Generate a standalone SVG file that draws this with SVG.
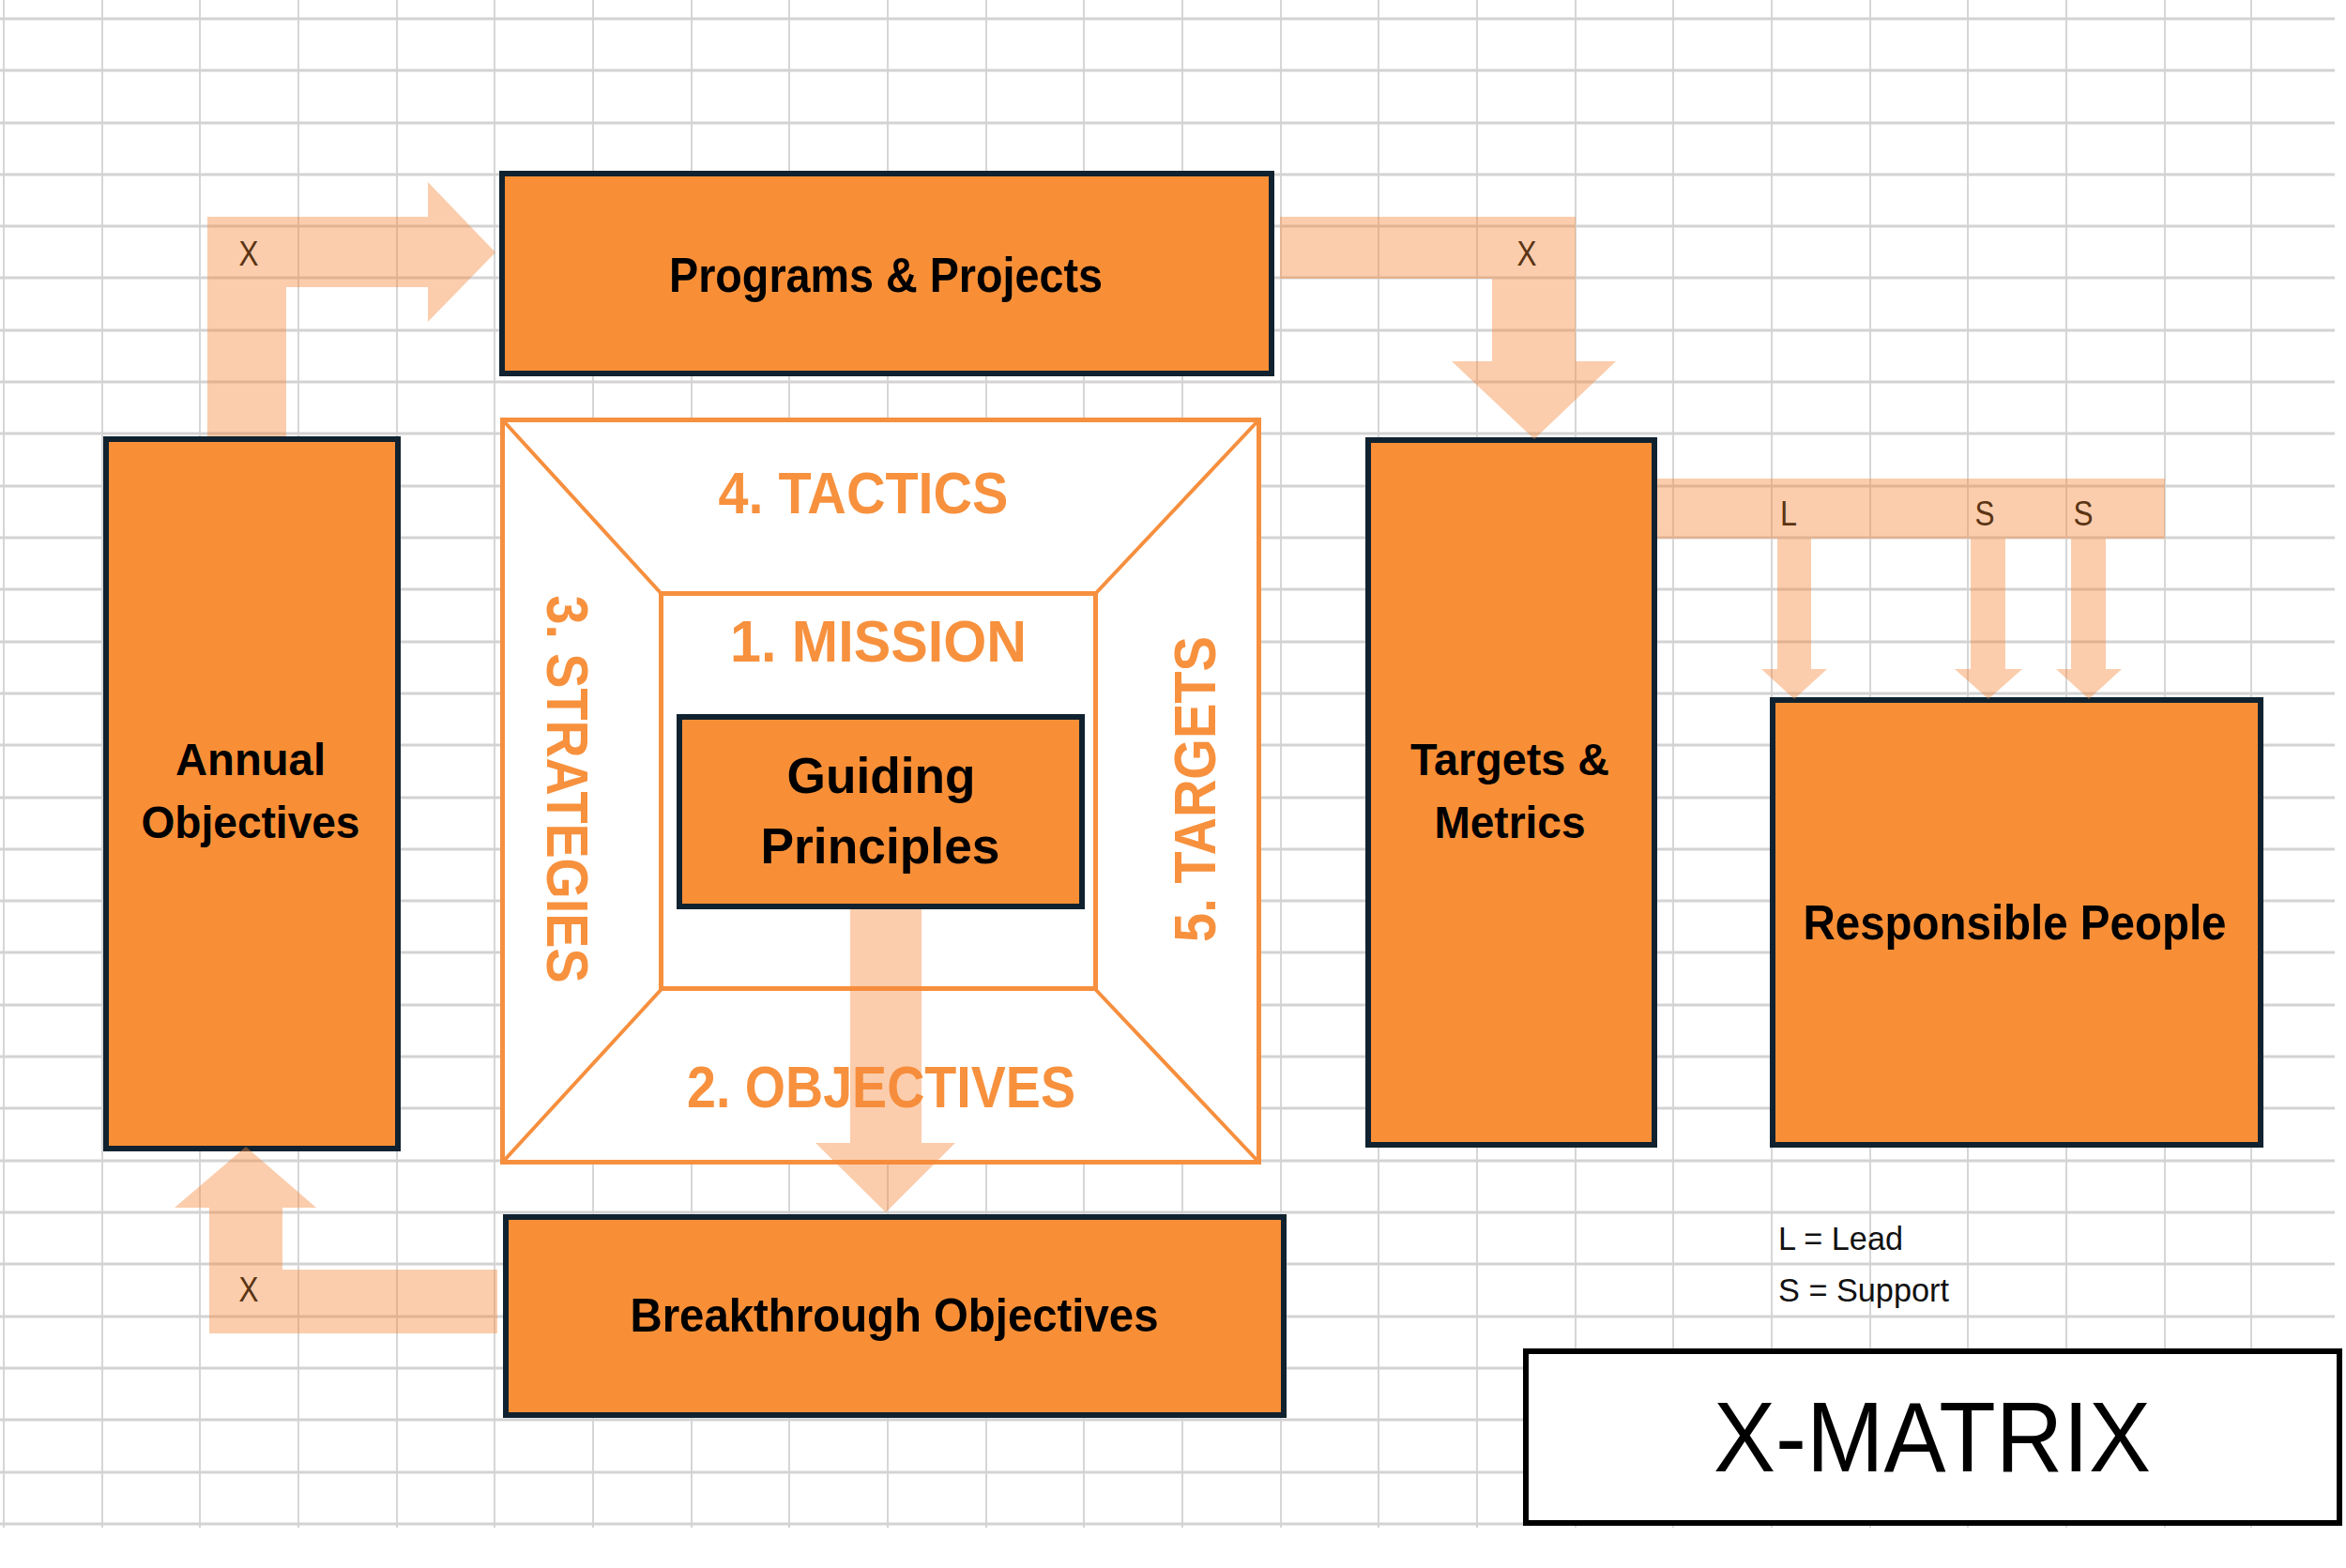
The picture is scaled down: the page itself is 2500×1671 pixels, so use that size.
<svg xmlns="http://www.w3.org/2000/svg" width="2500" height="1671" viewBox="0 0 2500 1671">
<defs>
<style>
.grid-h{stroke:#d3d3d3;stroke-width:3;fill:none}
.grid-v{stroke:#d6d6d6;stroke-width:2;fill:none}
.box{fill:#f88f37;stroke:#10222f;stroke-width:6}
.lbl{font-family:"Liberation Sans",Arial,sans-serif;font-weight:bold;fill:#000;text-anchor:middle}
.olbl{font-family:"Liberation Sans",Arial,sans-serif;font-weight:bold;fill:#f7913e;text-anchor:middle;font-size:63px}
.frame{fill:#fff;stroke:#f68f3e;stroke-width:5}
.diag{stroke:#f68f3e;stroke-width:4;fill:none}
.conn{fill:#f6883a;fill-opacity:0.42}
.cl{font-family:"Liberation Sans",Arial,sans-serif;font-size:37px;fill:#5a3414;text-anchor:middle}
.leg{font-family:"Liberation Sans",Arial,sans-serif;font-size:35px;fill:#111}
</style>
</defs>
<rect width="2500" height="1671" fill="#fff"/>
<g id="grid">
<path class="grid-v" d="M4,0V1628M109,0V1628M213,0V1628M318,0V1628M423,0V1628M527,0V1628M632,0V1628M737,0V1628M841,0V1628M946,0V1628M1051,0V1628M1155,0V1628M1260,0V1628M1365,0V1628M1469,0V1628M1574,0V1628M1679,0V1628M1783,0V1628M1888,0V1628M1993,0V1628M2097,0V1628M2202,0V1628M2307,0V1628M2399,0V1628"/>
<path class="grid-h" d="M0,20H2488M0,75H2488M0,131H2488M0,186H2488M0,241H2488M0,296H2488M0,352H2488M0,407H2488M0,462H2488M0,518H2488M0,573H2488M0,628H2488M0,684H2488M0,739H2488M0,794H2488M0,850H2488M0,905H2488M0,960H2488M0,1015H2488M0,1071H2488M0,1126H2488M0,1181H2488M0,1237H2488M0,1292H2488M0,1347H2488M0,1403H2488M0,1458H2488M0,1513H2488M0,1569H2488M0,1624H2488"/>
</g>
<g id="xmatrix-frame">
<rect class="frame" x="535.5" y="447.5" width="806" height="791"/>
<line class="diag" x1="536" y1="448" x2="705" y2="633"/>
<line class="diag" x1="1341" y1="448" x2="1167" y2="633"/>
<line class="diag" x1="536" y1="1238" x2="705" y2="1054"/>
<line class="diag" x1="1341" y1="1238" x2="1167" y2="1054"/>
<rect class="frame" x="704.5" y="632.5" width="463" height="421"/>
<text class="olbl" x="920" y="547" textLength="309" lengthAdjust="spacingAndGlyphs">4. TACTICS</text>
<text class="olbl" x="936" y="705" textLength="316" lengthAdjust="spacingAndGlyphs">1. MISSION</text>
<text class="olbl" x="939" y="1180" textLength="414" lengthAdjust="spacingAndGlyphs">2. OBJECTIVES</text>
<text class="olbl" transform="translate(583,841) rotate(90)" x="0" y="0" textLength="413" lengthAdjust="spacingAndGlyphs">3. STRATEGIES</text>
<text class="olbl" transform="translate(1295,841) rotate(-90)" x="0" y="0" textLength="326" lengthAdjust="spacingAndGlyphs">5. TARGETS</text>
</g>
<g id="programs-projects">
<rect class="box" x="535" y="185" width="820" height="213"/>
<text class="lbl" x="944" y="311" font-size="52" textLength="462" lengthAdjust="spacingAndGlyphs">Programs &amp; Projects</text>
</g>
<g id="annual-objectives">
<rect class="box" x="113" y="468" width="311" height="756"/>
<text class="lbl" x="267" y="826" font-size="48" textLength="160" lengthAdjust="spacingAndGlyphs">Annual</text>
<text class="lbl" x="267" y="893" font-size="48" textLength="233" lengthAdjust="spacingAndGlyphs">Objectives</text>
</g>
<g id="breakthrough-objectives">
<rect class="box" x="539" y="1297" width="829" height="211"/>
<text class="lbl" x="953" y="1419" font-size="50" textLength="563" lengthAdjust="spacingAndGlyphs">Breakthrough Objectives</text>
</g>
<g id="targets-metrics">
<rect class="box" x="1458" y="469" width="305" height="751"/>
<text class="lbl" x="1609" y="826" font-size="48" textLength="212" lengthAdjust="spacingAndGlyphs">Targets &amp;</text>
<text class="lbl" x="1609" y="893" font-size="48" textLength="161" lengthAdjust="spacingAndGlyphs">Metrics</text>
</g>
<g id="responsible-people">
<rect class="box" x="1889" y="746" width="520" height="474"/>
<text class="lbl" x="2147" y="1001" font-size="52" textLength="451" lengthAdjust="spacingAndGlyphs">Responsible People</text>
</g>
<g id="guiding-principles">
<rect class="box" x="724" y="764" width="429" height="202"/>
<text class="lbl" x="939" y="845" font-size="54" textLength="201" lengthAdjust="spacingAndGlyphs">Guiding</text>
<text class="lbl" x="938" y="920" font-size="54" textLength="255" lengthAdjust="spacingAndGlyphs">Principles</text>
</g>
<g id="legend">
<text class="leg" x="1895" y="1332" textLength="133" lengthAdjust="spacingAndGlyphs">L = Lead</text>
<text class="leg" x="1895" y="1387" textLength="182" lengthAdjust="spacingAndGlyphs">S = Support</text>
</g>
<g id="title">
<rect x="1626" y="1440" width="867" height="183" fill="#fff" stroke="#000" stroke-width="6"/>
<text x="2059" y="1568" font-family="Liberation Sans, Arial, sans-serif" font-size="105" text-anchor="middle" fill="#000" textLength="466" lengthAdjust="spacingAndGlyphs">X-MATRIX</text>
</g>
<g id="connectors">
<path class="conn" d="M221,465 L221,231 L456,231 L456,194 L528,269 L456,343 L456,306 L305,306 L305,465 Z"/>
<text class="cl" x="265" y="283" textLength="21" lengthAdjust="spacingAndGlyphs">X</text>
<path class="conn" d="M1364,231 L1679,231 L1679,385 L1722,385 L1635,468 L1547,385 L1590,385 L1590,297 L1364,297 Z"/>
<text class="cl" x="1627" y="283" textLength="21" lengthAdjust="spacingAndGlyphs">X</text>
<path class="conn" d="M1766,510 L2307,510 L2307,574 L2244,574 L2244,713 L2261,713 L2226,745 L2191,713 L2207,713 L2207,574 L2137,574 L2137,713 L2155,713 L2119,745 L2083,713 L2100,713 L2100,574 L1930,574 L1930,713 L1947,713 L1912,745 L1877,713 L1894,713 L1894,574 L1766,574 Z"/>
<text class="cl" x="1906" y="560" textLength="18" lengthAdjust="spacingAndGlyphs">L</text>
<text class="cl" x="2115" y="560" textLength="21" lengthAdjust="spacingAndGlyphs">S</text>
<text class="cl" x="2220" y="560" textLength="21" lengthAdjust="spacingAndGlyphs">S</text>
<path class="conn" d="M906,969 L982,969 L982,1218 L1018,1218 L944,1292 L869,1218 L906,1218 Z"/>
<path class="conn" d="M262,1222 L337,1287 L301,1287 L301,1353 L530,1353 L530,1421 L223,1421 L223,1287 L186,1287 Z"/>
<text class="cl" x="265" y="1387" textLength="21" lengthAdjust="spacingAndGlyphs">X</text>
</g>
</svg>
